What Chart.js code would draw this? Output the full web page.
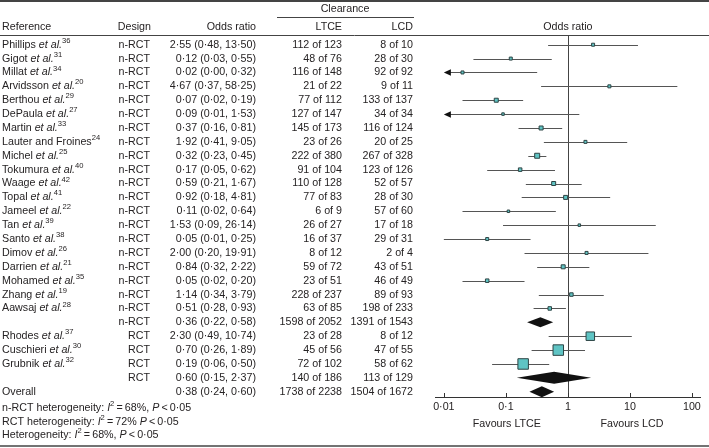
<!DOCTYPE html>
<html><head><meta charset="utf-8">
<script src="https://cdn.jsdelivr.net/npm/chart.js@4.4.1/dist/chart.umd.min.js"></script>
<style>html,body{margin:0;padding:0;background:#fff;}#wrap{width:709px;height:448px;position:relative;}canvas{display:block;}</style>
</head><body><div id="wrap"><canvas id="c" width="709" height="448"></canvas></div>
<script>
// ---------------- DATA ----------------
const studyLabels = ['Phillips et al.', 'Gigot et al.', 'Millat et al.', 'Arvidsson et al.', 'Berthou et al.', 'DePaula et al.', 'Martin et al.', 'Lauter and Froines', 'Michel et al.', 'Tokumura et al.', 'Waage et al.', 'Topal et al.', 'Jameel et al.', 'Tan et al.', 'Santo et al.', 'Dimov et al.', 'Darrien et al.', 'Mohamed et al.', 'Zhang et al.', 'Aawsaj et al.', '', 'Rhodes et al.', 'Cuschieri et al.', 'Grubnik et al.', '', 'Overall'];
const refNums = [36, 31, 34, 20, 29, 27, 33, 24, 25, 40, 42, 41, 22, 39, 38, 26, 21, 35, 19, 28, null, 37, 30, 32, null, null];
const designs = ['n-RCT','n-RCT','n-RCT','n-RCT','n-RCT','n-RCT','n-RCT','n-RCT','n-RCT','n-RCT','n-RCT','n-RCT','n-RCT','n-RCT','n-RCT','n-RCT','n-RCT','n-RCT','n-RCT','n-RCT','n-RCT','RCT','RCT','RCT','RCT',''];
const oddsRatio = [2.55, 0.12, 0.02, 4.67, 0.07, 0.09, 0.37, 1.92, 0.32, 0.17, 0.59, 0.92, 0.11, 1.53, 0.05, 2.00, 0.84, 0.05, 1.14, 0.51, 0.36, 2.30, 0.70, 0.19, 0.60, 0.38];
const ciLower = [0.48, 0.03, 0.004, 0.37, 0.02, 0.006, 0.16, 0.41, 0.23, 0.05, 0.21, 0.18, 0.02, 0.09, 0.01, 0.20, 0.32, 0.02, 0.34, 0.28, 0.22, 0.49, 0.26, 0.06, 0.15, 0.24];
const ciUpper = [13.50, 0.55, 0.32, 58.25, 0.19, 1.53, 0.81, 9.05, 0.45, 0.62, 1.67, 4.81, 0.64, 26.14, 0.25, 19.91, 2.22, 0.20, 3.79, 0.93, 0.58, 10.74, 1.89, 0.50, 2.37, 0.60];
const ltceCleared = [112, 48, 116, 21, 77, 127, 145, 23, 222, 91, 110, 77, 6, 26, 16, 8, 59, 23, 228, 63, 1598, 23, 45, 72, 140, 1738];
const ltceTotal = [123, 76, 148, 22, 112, 147, 173, 26, 380, 104, 128, 83, 9, 27, 37, 12, 72, 51, 237, 85, 2052, 28, 56, 102, 186, 2238];
const lcdCleared = [8, 28, 92, 9, 133, 34, 116, 20, 267, 123, 52, 28, 57, 17, 29, 2, 43, 46, 89, 198, 1391, 8, 47, 58, 113, 1504];
const lcdTotal = [10, 30, 92, 11, 137, 34, 124, 25, 328, 126, 57, 30, 60, 18, 31, 4, 51, 49, 93, 233, 1543, 12, 55, 62, 129, 1672];
const tickValues = [0.01, 0.1, 1, 10, 100];
const tickLabels = ['0\u00b701', '0\u00b71', '1', '10', '100'];
const hetLabels = ['n-RCT heterogeneity: ', 'RCT heterogeneity: ', 'Heterogeneity: '];
const hetI2 = [68, 72, 68];
const hetSep = [', ', ' ', ', '];

// ---------------- STYLE ----------------
const FONT = '"Liberation Sans", Arial, Helvetica, sans-serif';
const FS = 10.7;
const TEXT = '#262324';
const boxSizes = [4, 4, 4, 4, 5, 3.5, 5, 4, 6, 4.5, 5, 5, 3.5, 3.5, 4, 4, 5, 4.5, 4.5, 4.5, 0, 9.5, 11.5, 11.5, 0, 0];
const diamondHalfH = [5, 6, 5.5];

const isSummary = studyLabels.map((s, i) => s === '' || s === 'Overall');
const fmt = v => v.toFixed(2).replace('.', '\u00b7');

const studyIdx = [];
isSummary.forEach((s, i) => { if (!s) studyIdx.push(i); });
const summaryIdx = [];
isSummary.forEach((s, i) => { if (s) summaryIdx.push(i); });

function drawSegs(ctx, x, y, segs) {
  let cx = x;
  segs.forEach(s => {
    if (s.sup) {
      ctx.font = `7.6px ${FONT}`;
      ctx.fillText(s.t, cx, y - 4);
    } else {
      ctx.font = `${s.it ? 'italic ' : ''}${FS}px ${FONT}`;
      ctx.fillText(s.t, cx, y);
    }
    cx += ctx.measureText(s.t).width;
  });
  return cx - x;
}

const forestPlugin = {
  id: 'forest',
  beforeDatasetsDraw(chart) {
    const { ctx, chartArea: a, scales: { x, y } } = chart;
    ctx.save();
    const x1 = Math.round(x.getPixelForValue(1)) + 0.5;
    ctx.strokeStyle = '#444'; ctx.lineWidth = 1;
    ctx.beginPath(); ctx.moveTo(x1, a.top); ctx.lineTo(x1, a.bottom); ctx.stroke();
    ctx.strokeStyle = '#333';
    tickValues.forEach(v => {
      const px = Math.round(x.getPixelForValue(v)) + 0.5;
      ctx.beginPath(); ctx.moveTo(px, a.bottom); ctx.lineTo(px, a.bottom - 4); ctx.stroke();
    });
    const clipMin = tickValues[0];
    ctx.strokeStyle = '#555'; ctx.fillStyle = '#111'; ctx.lineWidth = 1;
    studyIdx.forEach(i => {
      const py = Math.round(y.getPixelForValue(i)) + 0.5;
      const xh = x.getPixelForValue(ciUpper[i]);
      if (ciLower[i] < clipMin) {
        const xt = x.getPixelForValue(clipMin);
        ctx.beginPath(); ctx.moveTo(xt + 6, py); ctx.lineTo(xh, py); ctx.stroke();
        ctx.beginPath(); ctx.moveTo(xt, py); ctx.lineTo(xt + 7, py - 3.2); ctx.lineTo(xt + 7, py + 3.2); ctx.closePath(); ctx.fill();
      } else {
        const xl = x.getPixelForValue(ciLower[i]);
        ctx.beginPath(); ctx.moveTo(xl, py); ctx.lineTo(xh, py); ctx.stroke();
      }
    });
    ctx.fillStyle = '#111';
    summaryIdx.forEach((i, k) => {
      const py = y.getPixelForValue(i);
      const h = diamondHalfH[k];
      const xl = x.getPixelForValue(ciLower[i]), xm = x.getPixelForValue(oddsRatio[i]), xh = x.getPixelForValue(ciUpper[i]);
      ctx.beginPath(); ctx.moveTo(xl, py); ctx.lineTo(xm, py - h); ctx.lineTo(xh, py); ctx.lineTo(xm, py + h); ctx.closePath(); ctx.fill();
    });
    ctx.restore();
  },
  afterDraw(chart) {
    const { ctx, scales: { x, y } } = chart;
    const W = chart.width;
    ctx.save();
    ctx.strokeStyle = '#444';
    ctx.lineWidth = 2; ctx.beginPath(); ctx.moveTo(0, 1); ctx.lineTo(W, 1); ctx.stroke();
    ctx.lineWidth = 1;
    ctx.beginPath(); ctx.moveTo(277, 17.5); ctx.lineTo(414, 17.5); ctx.stroke();
    ctx.beginPath(); ctx.moveTo(0, 35.5); ctx.lineTo(W, 35.5); ctx.stroke();
    ctx.lineWidth = 1.5; ctx.beginPath(); ctx.moveTo(0, 446); ctx.lineTo(W, 446); ctx.stroke();

    ctx.fillStyle = TEXT; ctx.textBaseline = 'middle';
    ctx.font = `${FS}px ${FONT}`;
    ctx.textAlign = 'center'; ctx.fillText('Clearance', 345, 9);
    ctx.textAlign = 'left'; ctx.fillText('Reference', 2, 27);
    ctx.textAlign = 'right';
    ctx.fillText('Design', 151, 27);
    ctx.fillText('Odds ratio', 256, 27);
    ctx.fillText('LTCE', 342, 27);
    ctx.fillText('LCD', 413, 27);
    ctx.textAlign = 'center'; ctx.fillText('Odds ratio', x.getPixelForValue(1), 27);

    studyLabels.forEach((lab, i) => {
      const py = y.getPixelForValue(i);
      ctx.textAlign = 'left';
      if (lab) {
        const segs = [];
        if (lab.includes(' et al.')) {
          segs.push({ t: lab.replace(' et al.', '') + ' ' });
          segs.push({ t: 'et al.', it: true });
        } else segs.push({ t: lab });
        if (refNums[i] != null) segs.push({ t: String(refNums[i]), sup: true });
        drawSegs(ctx, 2, py, segs);
      }
      ctx.font = `${FS}px ${FONT}`;
      ctx.textAlign = 'right';
      ctx.fillText(designs[i], 150, py);
      ctx.fillText(`${fmt(oddsRatio[i])} (${fmt(ciLower[i])}, ${fmt(ciUpper[i])})`, 256, py);
      ctx.fillText(`${ltceCleared[i]} of ${ltceTotal[i]}`, 342, py);
      ctx.fillText(`${lcdCleared[i]} of ${lcdTotal[i]}`, 413, py);
    });

    ctx.textAlign = 'left';
    const hetY = [408, 422, 435];
    hetLabels.forEach((lab, k) => {
      drawSegs(ctx, 2, hetY[k], [
        { t: lab }, { t: 'I', it: true }, { t: '2', sup: true },
        { t: '\u2009=\u2009' + hetI2[k] + '%' + hetSep[k] }, { t: 'P', it: true }, { t: '\u2009<\u20090\u00b705' }
      ]);
    });

    ctx.font = `${FS}px ${FONT}`;
    ctx.textAlign = 'center';
    ctx.fillText('Favours LTCE', x.getPixelForValue(0.1) + 1, 424);
    ctx.fillText('Favours LCD', x.getPixelForValue(10) + 2, 424);
    ctx.restore();
  }
};

new Chart(document.getElementById('c'), {
  type: 'scatter',
  data: {
    datasets: [{
      data: studyIdx.map(i => ({ x: oddsRatio[i], y: i })),
      pointStyle: 'rect',
      pointRadius: studyIdx.map(i => (boxSizes[i] - 1) / Math.SQRT2),
      pointHoverRadius: studyIdx.map(i => (boxSizes[i] - 1) / Math.SQRT2),
      backgroundColor: '#5fc4c4',
      borderColor: '#2e4444',
      borderWidth: 1
    }]
  },
  options: {
    responsive: false,
    animation: false,
    events: [],
    layout: { padding: { left: 435, right: 3, top: 36, bottom: 21 } },
    plugins: { legend: { display: false }, tooltip: { enabled: false } },
    scales: {
      x: {
        type: 'logarithmic',
        min: 0.0072, max: 138,
        position: 'bottom',
        grid: { display: false, drawTicks: true, tickLength: 4 },
        border: { display: true, color: '#333', width: 1 },
        afterBuildTicks: s => { s.ticks = tickValues.map(v => ({ value: v })); },
        afterFit: s => { s.height = 30; s.paddingLeft = 0; s.paddingRight = 0; },
        ticks: {
          autoSkip: false, maxRotation: 0, padding: 0,
          color: TEXT, font: { family: FONT, size: FS },
          callback: v => tickLabels[tickValues.indexOf(v)] ?? ''
        }
      },
      y: {
        type: 'linear', reverse: true, display: false,
        min: -0.627, max: 25.38
      }
    }
  },
  plugins: [forestPlugin]
});
</script></body></html>
